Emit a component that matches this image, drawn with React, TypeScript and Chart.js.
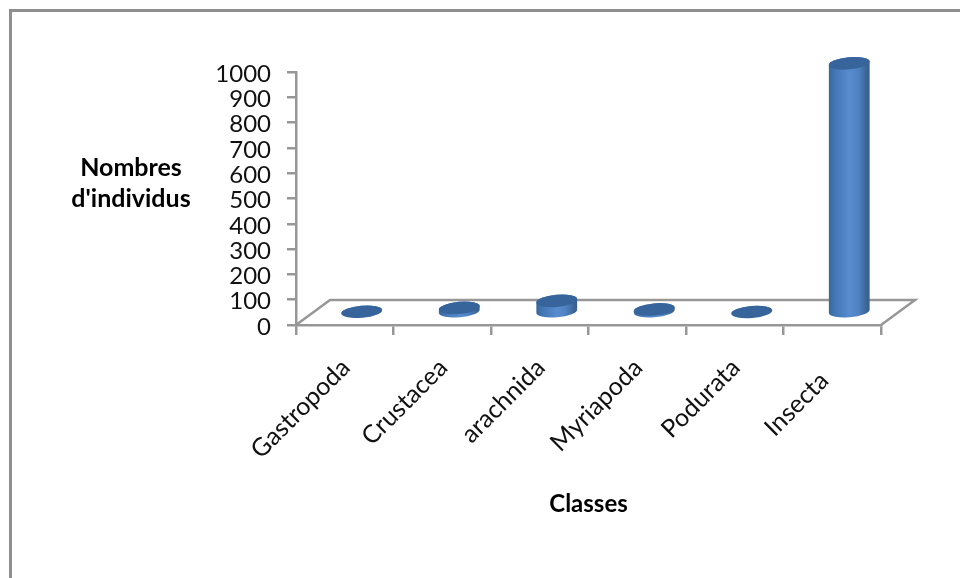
import React, { useEffect, useRef } from "react";
import { Chart, BarController, BarElement, CategoryScale, LinearScale } from "chart.js";

const categories = ["Gastropoda", "Crustacea", "arachnida", "Myriapoda", "Podurata", "Insecta"];
const individuals = [3, 18, 46, 12, 2, 985];
const yAxisTitle = ["Nombres", "d'individus"];
const xAxisTitle = "Classes";

const GREY = "#979797";
const FONT = "Lato";
// Depth of the 3D floor, in canvas pixels
const DEPTH_X = 34;
const DEPTH_Y = -25;
const ELLIPSE_RY = 6.1;
const TILT = -0.09;

// A bar drawn as a cylinder standing in the middle of the floor's depth
class CylinderElement extends BarElement {
  static id = "cylinder";
  static defaults = BarElement.defaults;
  static defaultRoutes = BarElement.defaultRoutes;

  draw(ctx: CanvasRenderingContext2D) {
    const { x, y, base, width } = (this as any).getProps(["x", "y", "base", "width"], true);
    const cx = x + DEPTH_X / 2;
    const bottom = base + DEPTH_Y / 2;
    const top = y + DEPTH_Y / 2;
    const rx = width / 2;

    const body = ctx.createLinearGradient(cx - rx, 0, cx + rx, 0);
    body.addColorStop(0, "#3a6797");
    body.addColorStop(0.14, "#4275b3");
    body.addColorStop(0.5, "#578ccf");
    body.addColorStop(0.72, "#4f82c1");
    body.addColorStop(0.92, "#3b6596");
    body.addColorStop(1, "#37608f");

    ctx.save();
    ctx.beginPath();
    ctx.ellipse(cx, bottom, rx, ELLIPSE_RY, TILT, 0, Math.PI);
    ctx.ellipse(cx, top, rx, ELLIPSE_RY, TILT, Math.PI, Math.PI * 2);
    ctx.closePath();
    ctx.fillStyle = body;
    ctx.fill();

    ctx.beginPath();
    ctx.ellipse(cx, top, rx, ELLIPSE_RY, TILT, 0, Math.PI * 2);
    ctx.fillStyle = "#37659b";
    ctx.fill();
    ctx.restore();
  }
}

class CylinderController extends BarController {
  static id = "cylinder";
  static defaults = { ...BarController.defaults, dataElementType: "cylinder" };
  static overrides = BarController.overrides;
}

Chart.register(CylinderController, CylinderElement, BarElement, CategoryScale, LinearScale);

// Outer frame, floor outline, the horizontal y title and the last label's drop
const decorations = {
  id: "decorations",
  beforeDraw(chart: any) {
    const { ctx } = chart;
    ctx.save();
    ctx.strokeStyle = "#8f8f8f";
    ctx.lineWidth = 3;
    ctx.beginPath();
    ctx.moveTo(10.5, chart.height);
    ctx.lineTo(10.5, 10.5);
    ctx.lineTo(chart.width, 10.5);
    ctx.stroke();
    ctx.restore();

    const items = chart.scales.x.getLabelItems();
    const last = items[items.length - 1];
    if (!last.shifted) {
      const [tx, ty] = last.options.translation;
      last.options.translation = [tx - 9, ty + 13];
      last.shifted = true;
    }
  },
  beforeDatasetsDraw(chart: any) {
    const { ctx, chartArea: a } = chart;
    ctx.save();
    ctx.strokeStyle = GREY;
    ctx.lineWidth = 2.5;
    ctx.beginPath();
    ctx.moveTo(a.left, a.bottom);
    ctx.lineTo(a.left + DEPTH_X, a.bottom + DEPTH_Y);
    ctx.lineTo(a.right + DEPTH_X, a.bottom + DEPTH_Y);
    ctx.lineTo(a.right, a.bottom);
    ctx.stroke();
    ctx.restore();
  },
  afterDraw(chart: any) {
    const { ctx } = chart;
    ctx.save();
    ctx.fillStyle = "#000";
    ctx.font = `bold 25px ${FONT}`;
    ctx.textAlign = "center";
    ctx.textBaseline = "middle";
    yAxisTitle.forEach((line, i) => ctx.fillText(line, 131, 168 + i * 31));
    ctx.restore();
  },
};

export default function App() {
  const ref = useRef<HTMLCanvasElement>(null);

  useEffect(() => {
    const chart = new Chart(ref.current!, {
      type: "cylinder" as any,
      data: {
        labels: categories,
        datasets: [
          {
            data: individuals,
            barPercentage: 0.42,
            categoryPercentage: 1,
            clip: false as any,
          },
        ],
      },
      options: {
        animation: false,
        responsive: false,
        layout: { autoPadding: false, padding: { left: 0, top: 72, right: 79, bottom: 0 } },
        plugins: { legend: { display: false }, tooltip: { enabled: false } },
        scales: {
          x: {
            type: "category",
            afterFit: (s: any) => {
              s.height = 253;
            },
            grid: { drawOnChartArea: false, color: GREY, lineWidth: 2.5, tickLength: 10 },
            border: { color: GREY, width: 2.5 },
            ticks: {
              minRotation: 45,
              maxRotation: 45,
              autoSkip: false,
              padding: 18,
              labelOffset: 1,
              color: "#111",
              font: { family: FONT, size: 25 },
            },
            title: {
              display: true,
              text: xAxisTitle,
              color: "#000",
              font: { family: FONT, size: 24, weight: "bold" },
              padding: { top: 0, bottom: 59 },
            },
          },
          y: {
            type: "linear",
            min: 0,
            max: 1000,
            afterFit: (s: any) => {
              s.width = 296;
            },
            grid: { drawOnChartArea: false, color: GREY, lineWidth: 2.5, tickLength: 9 },
            border: { color: GREY, width: 2.5 },
            ticks: {
              stepSize: 100,
              autoSkip: false,
              padding: 16,
              labelOffset: 2,
              color: "#111",
              font: { family: FONT, size: 24 },
              callback: (v: any) => String(v),
            },
          },
        },
      },
      plugins: [decorations],
    } as any);
    return () => chart.destroy();
  }, []);

  return (
    <div style={{ position: "fixed", left: 0, top: 0, width: 960, height: 578, background: "#fff" }}>
      <canvas ref={ref} width={960} height={578} style={{ display: "block" }} />
    </div>
  );
}
